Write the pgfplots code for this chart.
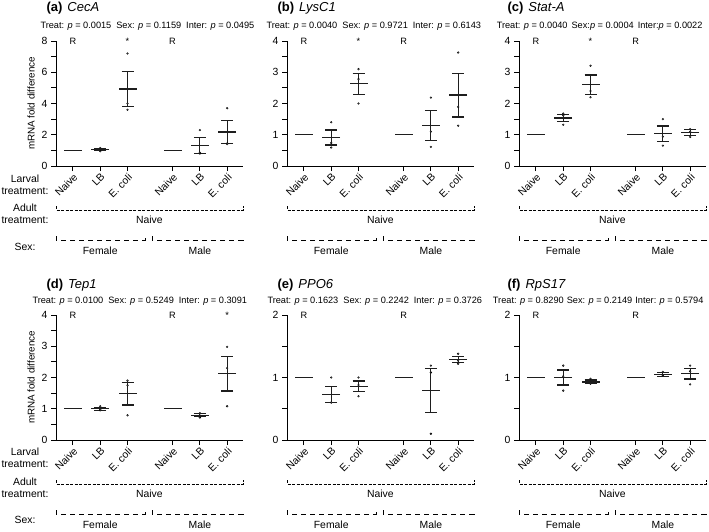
\documentclass[border=0pt]{standalone}
\usepackage{fontspec}
\setmainfont{Liberation Sans}
\usepackage{pgfplots}
\pgfplotsset{compat=1.18}

\definecolor{barink}{RGB}{30,30,30}
\definecolor{dotgray}{RGB}{150,150,150}

\newcommand{\tk}{\fontsize{10.4}{12.4}\selectfont}
\newcommand{\pv}{\fontsize{9.2}{10}\selectfont}
\newcommand{\ttl}{\fontsize{13}{14}\selectfont}

\pgfplotsset{
  panel/.style={
    scale only axis, width=187pt, height=125pt, anchor=south west,
    axis lines=left, axis line style={-, line width=0.9pt},
    xmin=0.38, xmax=7.23, ymin=0, clip=false,
    xtick={1,2,3,4.65,5.65,6.65},
    xticklabels={Naive,LB,E. coli,Naive,LB,E. coli},
    xticklabel style={rotate=45, anchor=north east, inner sep=1pt, font=\tk},
    yticklabel style={font=\tk},
    ylabel style={font=\fontsize{9.8}{10}\selectfont},
    /pgf/number format/assume math mode=true,
    tick align=outside, major tick length=5pt, minor tick length=5pt,
    tick style={black, line width=0.9pt},
  },
  means/.style={only marks, mark=-, mark size=9pt,
    mark options={line width=1.3pt, draw=barink},
    error bars/.cd, y dir=both, y explicit,
    error bar style={line width=1.2pt, draw=barink},
    error mark=-, error mark options={rotate=90, mark size=6pt, line width=1.2pt, draw=barink}},
  dots/.style={only marks, mark=*, mark size=0.9pt, draw=none, fill=dotgray},
}

% brackets for adult treatment and sex under each panel
\newcommand{\groupbrackets}{%
  \draw[line width=0.8pt, dash pattern=on 3pt off 1.5pt]
    ([yshift=-40pt]rel axis cs:0,0) -- ([yshift=-44pt]rel axis cs:0,0)
    -- ([yshift=-44pt]rel axis cs:1,0) -- ([yshift=-40pt]rel axis cs:1,0);
  \node[font=\tk] at ([yshift=-54pt]axis cs:3.8,0) {Naive};
  \draw[line width=0.8pt, dash pattern=on 5pt off 4pt]
    ([yshift=-70pt]rel axis cs:0,0) -- ([yshift=-74pt]rel axis cs:0,0)
    -- ([yshift=-74pt]axis cs:3.64,0) -- ([yshift=-70pt]axis cs:3.64,0);
  \draw[line width=0.8pt, dash pattern=on 5pt off 4pt]
    ([yshift=-70pt]axis cs:3.9,0) -- ([yshift=-74pt]axis cs:3.9,0)
    -- ([yshift=-74pt]rel axis cs:1,0) -- ([yshift=-70pt]rel axis cs:1,0);
  \node[font=\tk] at ([yshift=-85pt]axis cs:2,0) {Female};
  \node[font=\tk] at ([yshift=-85pt]axis cs:5.65,0) {Male};
}

\begin{document}
\begin{tikzpicture}
\useasboundingbox (0,0) rectangle (709pt,-532pt);

% ---------- row 1 ----------
\node[anchor=west, font=\ttl] at (43pt,-8.5pt) {\textbf{(a)}\hspace{5pt}\textit{CecA}};
\node[anchor=west, font=\pv] at (37pt,-26pt) {Treat: \textit{p} = 0.0015\hspace{5pt}Sex: \textit{p} = 0.1159\hspace{5pt}Inter: \textit{p} = 0.0495};
\node[anchor=west, font=\ttl] at (274pt,-8.5pt) {\textbf{(b)}\hspace{5pt}\textit{LysC1}};
\node[anchor=west, font=\pv] at (263pt,-26pt) {Treat: \textit{p} = 0.0040\hspace{5pt}Sex: \textit{p} = 0.9721\hspace{5pt}Inter: \textit{p} = 0.6143};
\node[anchor=west, font=\ttl] at (504pt,-8.5pt) {\textbf{(c)}\hspace{5pt}\textit{Stat-A}};
\node[anchor=east, font=\pv] at (706pt,-26pt) {Treat: \textit{p} = 0.0040\hspace{4pt}Sex:\textit{p} = 0.0004\hspace{4pt}Inter:\textit{p} = 0.0022};

\node[font=\tk, align=center] at (25pt,-184.5pt) {Larval\\treatment:};
\node[font=\tk, align=center] at (25pt,-214pt) {Adult\\treatment:};
\node[font=\tk] at (25pt,-246.5pt) {Sex:};

\begin{axis}[panel, at={(56pt,-166pt)}, ymax=8, ytick={0,2,4,6,8}, minor ytick={1,3,5,7},
  ylabel={mRNA fold difference}]
  \addplot[dots] coordinates {(2,1.15)(2,0.95)(2,1.05)(3,7.2)(3,3.6)(3,4.0)
    (5.65,2.3)(5.65,0.8)(5.65,0.85)(6.65,3.7)(6.65,1.4)(6.65,1.45)};
  \addplot[means] coordinates {(1,1) +- (0,0) (2,1.05) +- (0,0.06) (3,4.93) +- (0,1.14)
    (4.65,1) +- (0,0) (5.65,1.30) +- (0,0.50) (6.65,2.18) +- (0,0.74)};
  \node[font=\pv, anchor=base] at ([yshift=-3pt]axis cs:1,8) {R};
  \node[font=\pv, anchor=base] at ([yshift=-3pt]axis cs:4.65,8) {R};
  \node[font=\pv, anchor=base] at ([yshift=-3pt]axis cs:3,8) {*};
  \groupbrackets
\end{axis}

\begin{axis}[panel, at={(287pt,-166pt)}, ymax=4, ytick={0,1,2,3,4}, minor ytick={0.5,1.5,2.5,3.5}]
  \addplot[dots] coordinates {(2,1.4)(2,0.59)(2,0.74)(3,3.1)(3,2.0)(3,2.78)
    (5.65,2.19)(5.65,0.61)(5.65,1.1)(6.65,3.63)(6.65,1.29)(6.65,1.89)};
  \addplot[means] coordinates {(1,1) +- (0,0) (2,0.91) +- (0,0.24) (3,2.63) +- (0,0.34)
    (4.65,1) +- (0,0) (5.65,1.30) +- (0,0.48) (6.65,2.27) +- (0,0.70)};
  \node[font=\pv, anchor=base] at ([yshift=-3pt]axis cs:1,4) {R};
  \node[font=\pv, anchor=base] at ([yshift=-3pt]axis cs:4.65,4) {R};
  \node[font=\pv, anchor=base] at ([yshift=-3pt]axis cs:3,4) {*};
  \groupbrackets
\end{axis}

\begin{axis}[panel, at={(519pt,-166pt)}, ymax=4, ytick={0,1,2,3,4}, minor ytick={0.5,1.5,2.5,3.5}]
  \addplot[dots] coordinates {(2,1.68)(2,1.32)(2,1.62)(3,3.21)(3,2.2)(3,2.4)
    (5.65,1.5)(5.65,0.65)(5.65,0.94)(6.65,1.18)(6.65,0.93)(6.65,1.1)};
  \addplot[means] coordinates {(1,1) +- (0,0) (2,1.54) +- (0,0.12) (3,2.60) +- (0,0.31)
    (4.65,1) +- (0,0) (5.65,1.03) +- (0,0.25) (6.65,1.07) +- (0,0.09)};
  \node[font=\pv, anchor=base] at ([yshift=-3pt]axis cs:1,4) {R};
  \node[font=\pv, anchor=base] at ([yshift=-3pt]axis cs:4.65,4) {R};
  \node[font=\pv, anchor=base] at ([yshift=-3pt]axis cs:3,4) {*};
  \groupbrackets
\end{axis}

% ---------- row 2 ----------
\node[anchor=west, font=\ttl] at (43pt,-285pt) {\textbf{(d)}\hspace{5pt}\textit{Tep1}};
\node[anchor=west, font=\pv] at (29pt,-301pt) {Treat: \textit{p} = 0.0100\hspace{5pt}Sex: \textit{p} = 0.5249\hspace{5pt}Inter: \textit{p} = 0.3091};
\node[anchor=west, font=\ttl] at (274pt,-285pt) {\textbf{(e)}\hspace{5pt}\textit{PPO6}};
\node[anchor=west, font=\pv] at (264pt,-301pt) {Treat: \textit{p} = 0.1623\hspace{5pt}Sex: \textit{p} = 0.2242\hspace{5pt}Inter: \textit{p} = 0.3726};
\node[anchor=west, font=\ttl] at (504pt,-285pt) {\textbf{(f)}\hspace{5pt}\textit{RpS17}};
\node[anchor=east, font=\pv] at (707pt,-301pt) {Treat: \textit{p} = 0.8290\hspace{3pt}Sex: \textit{p} = 0.2149\hspace{3pt}Inter: \textit{p} = 0.5794};

\node[font=\tk, align=center] at (25pt,-458pt) {Larval\\treatment:};
\node[font=\tk, align=center] at (25pt,-488pt) {Adult\\treatment:};
\node[font=\tk] at (25pt,-520pt) {Sex:};

\begin{axis}[panel, at={(56pt,-440pt)}, ymax=4, ytick={0,1,2,3,4}, minor ytick={0.5,1.5,2.5,3.5},
  ylabel={mRNA fold difference}]
  \addplot[dots] coordinates {(2,1.08)(2,0.95)(2,0.98)(3,1.9)(3,0.79)(3,1.75)
    (5.65,0.86)(5.65,0.72)(5.65,0.79)(6.65,2.98)(6.65,1.08)(6.65,2.3)};
  \addplot[means] coordinates {(1,1) +- (0,0) (2,1.0) +- (0,0.05) (3,1.48) +- (0,0.36)
    (4.65,1) +- (0,0) (5.65,0.79) +- (0,0.05) (6.65,2.12) +- (0,0.55)};
  \node[font=\pv, anchor=base] at ([yshift=-3pt]axis cs:1,4) {R};
  \node[font=\pv, anchor=base] at ([yshift=-3pt]axis cs:4.65,4) {R};
  \node[font=\pv, anchor=base] at ([yshift=-3pt]axis cs:6.65,4) {*};
  \groupbrackets
\end{axis}

\begin{axis}[panel, at={(287pt,-440pt)}, ymax=2, ytick={0,1,2}, minor ytick={0.5,1.5}]
  \addplot[dots] coordinates {(2,1.0)(2,0.6)(2,0.6)(3,1.0)(3,0.70)(3,0.88)
    (5.65,1.19)(5.65,0.1)(5.65,1.08)(6.65,1.38)(6.65,1.22)(6.65,1.27)};
  \addplot[means] coordinates {(1,1) +- (0,0) (2,0.73) +- (0,0.13) (3,0.86) +- (0,0.085)
    (4.65,1) +- (0,0) (5.65,0.79) +- (0,0.35) (6.65,1.29) +- (0,0.05)};
  \node[font=\pv, anchor=base] at ([yshift=-3pt]axis cs:1,2) {R};
  \node[font=\pv, anchor=base] at ([yshift=-3pt]axis cs:4.65,2) {R};
  \groupbrackets
\end{axis}

\begin{axis}[panel, at={(519pt,-440pt)}, ymax=2, ytick={0,1,2}, minor ytick={0.5,1.5}]
  \addplot[dots] coordinates {(2,1.19)(2,0.79)(2,1.02)(3,0.98)(3,0.90)(3,0.92)
    (5.65,1.09)(5.65,1.03)(5.65,1.04)(6.65,1.19)(6.65,0.89)(6.65,1.1)};
  \addplot[means] coordinates {(1,1) +- (0,0) (2,1.0) +- (0,0.12) (3,0.93) +- (0,0.03)
    (4.65,1) +- (0,0) (5.65,1.05) +- (0,0.03) (6.65,1.06) +- (0,0.085)};
  \node[font=\pv, anchor=base] at ([yshift=-3pt]axis cs:1,2) {R};
  \node[font=\pv, anchor=base] at ([yshift=-3pt]axis cs:4.65,2) {R};
  \groupbrackets
\end{axis}
\end{tikzpicture}
\end{document}
